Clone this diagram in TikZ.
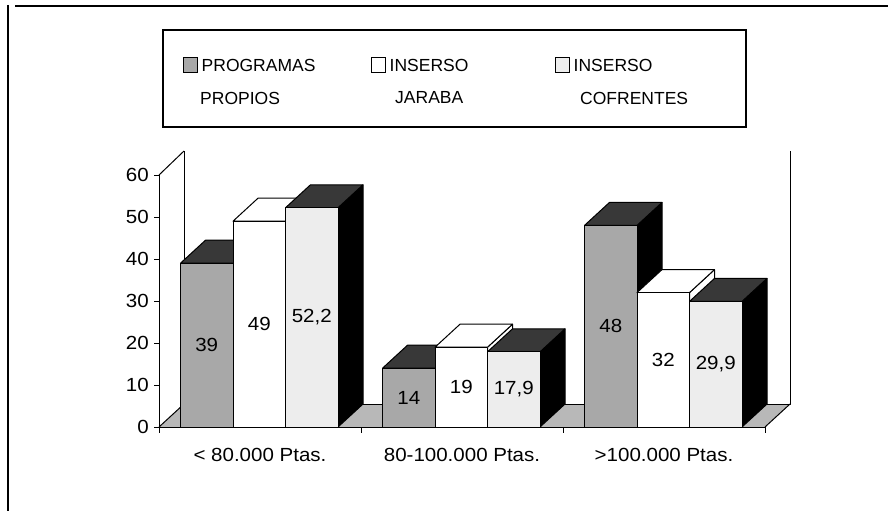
\documentclass[tikz,border=0pt]{standalone}
\usepackage{fontspec}
\setmainfont{Liberation Sans}
\newfontfamily\etiq{Liberation Sans}[FakeStretch=1.08]
\usetikzlibrary{positioning}
\definecolor{propios}{gray}{0.66}
\definecolor{tapa}{gray}{0.22}
\definecolor{cofrentes}{gray}{0.93}
\definecolor{piso}{gray}{0.72}
\tikzset{
  texto/.style={font=\fontsize{17.5}{17.5}\selectfont, inner sep=0pt},
  valor/.style={font=\etiq\fontsize{19}{19}\selectfont, inner sep=0pt},
  muestra/.style={draw=black, line width=1pt, minimum size=14pt, inner sep=0pt},
  linea/.style={line width=1pt, line join=round},
}

\begin{document}
\begin{tikzpicture}[x=1pt,y=-1pt]
      \useasboundingbox (0,0) rectangle (893,511);

      % una barra: x izq, valor, frente, tapa, lado, etiqueta, nombre
      \newcommand\barra[7]{
        \pgfmathsetmacro\ytop{427-4.2*#2}
        \filldraw[linea, fill=#5] (#1+52.5,427) -- (#1+52.5,\ytop) -- (#1+77.5,\ytop-23) -- (#1+77.5,404) -- cycle;
        \filldraw[linea, fill=#4] (#1,\ytop) -- (#1+25,\ytop-23) -- (#1+77.5,\ytop-23) -- (#1+52.5,\ytop) -- cycle;
        \filldraw[linea, fill=#3] (#1,427) rectangle (#1+52.5,\ytop);
        \node[valor] (#7) at (#1+26.25,{(427+\ytop)/2}) {#6};
      }

      % marco
      \draw[line width=1.2pt] (15,6) -- (888,6);
      \draw[line width=1.2pt] (8,5) -- (8,511);

      % leyenda
      \draw[line width=1.2pt] (163,30) rectangle (746,127);
      \node[muestra, fill=propios] (mPropios) at (190,65) {};
      \node[texto, right=4pt of mPropios] (tPropios) {PROGRAMAS};
      \node[texto, anchor=west] (tPropiosB) at (200,98) {PROPIOS};
      \node[muestra, fill=white] (mJaraba) at (378,65) {};
      \node[texto, right=4pt of mJaraba] (tJaraba) {INSERSO};
      \node[texto, anchor=west] (tJarabaB) at (395,98) {JARABA};
      \node[muestra, fill=cofrentes] (mCofrentes) at (562,65) {};
      \node[texto, right=4pt of mCofrentes] (tCofrentes) {INSERSO};
      \node[texto, anchor=west] (tCofrentesB) at (580,98) {COFRENTES};

      % piso y pared
      \fill[piso] (159,427) -- (765,427) -- (790,404) -- (184,404) -- cycle;
      \draw[linea] (184,151) -- (184,404) -- (790,404) -- (790,151);
      \draw[linea] (159,175) -- (184,151);
      \draw[linea] (159,427) -- (184,404);
      \draw[linea] (765,427) -- (790,404);

      % barras
      \barra{180.5}{39}{propios}{tapa}{black}{39}{bA1}
      \barra{233}{49}{white}{white}{white}{49}{bA2}
      \barra{285.5}{52.2}{cofrentes}{tapa}{black}{52,2}{bA3}
      \barra{382.5}{14}{propios}{tapa}{black}{14}{bB1}
      \barra{435}{19}{white}{white}{white}{19}{bB2}
      \barra{487.5}{17.9}{cofrentes}{tapa}{black}{17,9}{bB3}
      \barra{584.5}{48}{propios}{tapa}{black}{48}{bC1}
      \barra{637}{32}{white}{white}{white}{32}{bC2}
      \barra{689.5}{29.9}{cofrentes}{tapa}{black}{29,9}{bC3}

      % ejes
      \draw[linea] (159,175) -- (159,427) -- (765,427);
      \foreach \v in {0,10,...,60} {
        \draw[linea] (154,427-4.2*\v) -- (159,427-4.2*\v);
        \node[valor, anchor=east] (y\v) at (149,427-4.2*\v) {\v};
      }
      \foreach \x in {159,361,563,765}
        \draw[linea] (\x,427) -- (\x,433);
      \node[valor] (cA) at (260,455) {< 80.000 Ptas.};
      \node[valor] (cB) at (462,455) {80-100.000 Ptas.};
      \node[valor] (cC) at (664,455) {>100.000 Ptas.};

\end{tikzpicture}
\end{document}
